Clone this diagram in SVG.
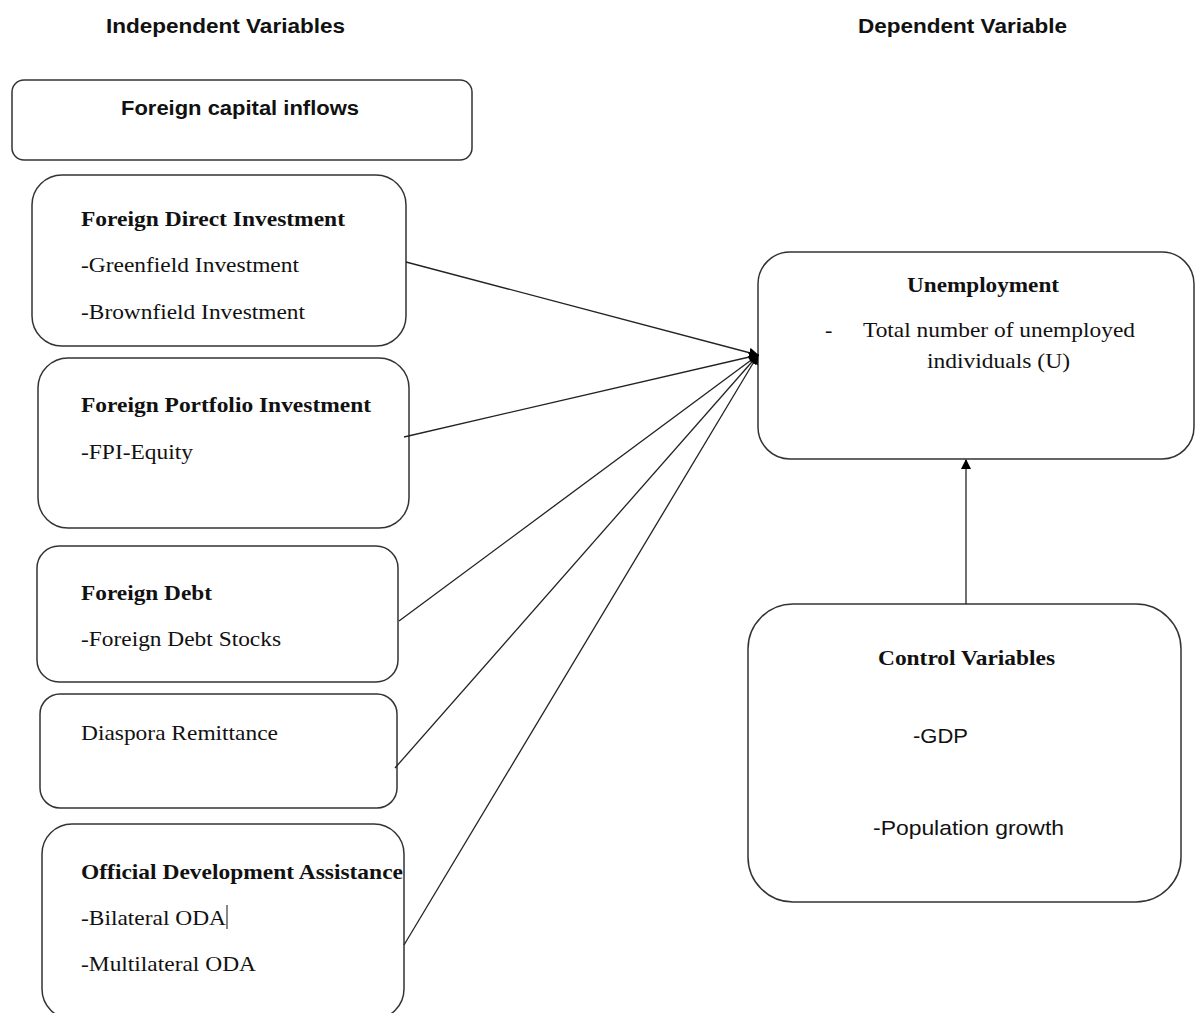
<svg xmlns="http://www.w3.org/2000/svg" width="1195" height="1013" viewBox="0 0 1195 1013">
<style>
.box{fill:#fff;stroke:#333;stroke-width:1.5}
.hdr{font-family:"Liberation Sans",Arial,sans-serif;font-weight:bold;font-size:20px;fill:#111}
.sb{font-family:"Liberation Serif","Times New Roman",serif;font-weight:bold;font-size:22px;fill:#111}
.sr{font-family:"Liberation Serif","Times New Roman",serif;font-size:22px;fill:#111}
.sans{font-family:"Liberation Sans",Arial,sans-serif;font-size:21px;fill:#111}
.con{stroke:#222;stroke-width:1.3;fill:none}
</style>
<defs>
<marker id="ah" markerWidth="10" markerHeight="10" refX="9" refY="5" orient="auto" markerUnits="userSpaceOnUse">
<path d="M0,0 L10,5 L0,10 Z" fill="#000"/>
</marker>
</defs>
<rect width="1195" height="1013" fill="#fff"/>
<text class="hdr" x="106" y="33" textLength="239" lengthAdjust="spacingAndGlyphs">Independent Variables</text>
<text class="hdr" x="858" y="33" textLength="209" lengthAdjust="spacingAndGlyphs">Dependent Variable</text>

<g id="fci">
<rect class="box" x="12" y="80" width="460" height="80" rx="12"/>
<text class="hdr" x="121" y="115" textLength="238" lengthAdjust="spacingAndGlyphs">Foreign capital inflows</text>
</g>
<g id="fdi">
<rect class="box" x="32" y="175" width="374" height="171" rx="30"/>
<text class="sb" x="81" y="226" textLength="264" lengthAdjust="spacingAndGlyphs">Foreign Direct Investment</text>
<text class="sr" x="81" y="272" textLength="218" lengthAdjust="spacingAndGlyphs">-Greenfield Investment</text>
<text class="sr" x="81" y="319" textLength="224" lengthAdjust="spacingAndGlyphs">-Brownfield Investment</text>
</g>
<g id="fpi">
<rect class="box" x="38" y="358" width="371" height="170" rx="30"/>
<text class="sb" x="81" y="412" textLength="290" lengthAdjust="spacingAndGlyphs">Foreign Portfolio Investment</text>
<text class="sr" x="81" y="459" textLength="112" lengthAdjust="spacingAndGlyphs">-FPI-Equity</text>
</g>
<g id="fd">
<rect class="box" x="37" y="546" width="361" height="136" rx="22"/>
<text class="sb" x="81" y="600" textLength="131" lengthAdjust="spacingAndGlyphs">Foreign Debt</text>
<text class="sr" x="81" y="646" textLength="200" lengthAdjust="spacingAndGlyphs">-Foreign Debt Stocks</text>
</g>
<g id="dr">
<rect class="box" x="40" y="694" width="357" height="114" rx="20"/>
<text class="sr" x="81" y="740" textLength="197" lengthAdjust="spacingAndGlyphs">Diaspora Remittance</text>
</g>
<g id="oda">
<rect class="box" x="42" y="824" width="362" height="195" rx="30"/>
<text class="sb" x="81" y="879" textLength="322" lengthAdjust="spacingAndGlyphs">Official Development Assistance</text>
<text class="sr" x="81" y="925" textLength="145" lengthAdjust="spacingAndGlyphs">-Bilateral ODA</text>
<line x1="227" y1="905" x2="227" y2="929" stroke="#111" stroke-width="1"/>
<text class="sr" x="81" y="971" textLength="175" lengthAdjust="spacingAndGlyphs">-Multilateral ODA</text>
</g>
<g id="unemp">
<rect class="box" x="758" y="252" width="436" height="207" rx="32"/>
<text class="sb" x="907" y="292" textLength="152" lengthAdjust="spacingAndGlyphs">Unemployment</text>
<text class="sr" x="825" y="337">-</text>
<text class="sr" x="863" y="337" textLength="272" lengthAdjust="spacingAndGlyphs">Total number of unemployed</text>
<text class="sr" x="927" y="368" textLength="143" lengthAdjust="spacingAndGlyphs">individuals (U)</text>
</g>
<g id="ctrl">
<rect class="box" x="748" y="604" width="433" height="298" rx="45"/>
<text class="sb" x="878" y="665" textLength="177" lengthAdjust="spacingAndGlyphs">Control Variables</text>
<text class="sans" x="913" y="743" textLength="55" lengthAdjust="spacingAndGlyphs">-GDP</text>
<text class="sans" x="873" y="835" textLength="191" lengthAdjust="spacingAndGlyphs">-Population growth</text>
</g>
<g id="connectors">
<line class="con" x1="406" y1="262" x2="758" y2="355" marker-end="url(#ah)"/>
<line class="con" x1="404" y1="437" x2="758" y2="355" marker-end="url(#ah)"/>
<line class="con" x1="399" y1="621" x2="758" y2="355" marker-end="url(#ah)"/>
<line class="con" x1="395" y1="768" x2="758" y2="355" marker-end="url(#ah)"/>
<line class="con" x1="404" y1="945" x2="758" y2="355" marker-end="url(#ah)"/>
<line class="con" x1="966" y1="604" x2="966" y2="460" marker-end="url(#ah)"/>
</g>
</svg>
